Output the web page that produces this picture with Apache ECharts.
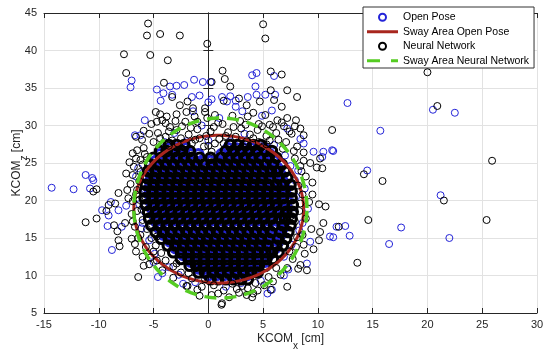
<!DOCTYPE html>
<html><head><meta charset="utf-8">
<script src="https://cdn.jsdelivr.net/npm/echarts@6/dist/echarts.min.js"></script>
<style>html,body{margin:0;padding:0;background:#fff}#c{width:550px;height:355px}</style>
</head><body><div id="c"></div>
<script>
// axis ticks
const xTicks = [-15,-10,-5,0,5,10,15,20,25,30];
const yTicks = [5,10,15,20,25,30,35,40,45];

// Open Pose: individually readable points
const openPoseOuter = [[-14.3,21.7],[-12.3,21.5],[-10.8,21.6],[-11.2,23.4],[-10.6,23.0],[-10.5,22.7],[-8.9,19.8],[-9.7,18.7],[-9.1,18.0],[-8.2,18.7],[-7.5,19.3],[-9.2,16.6],[-8.8,13.4],[-7.9,16.5],[-5.9,19.2],[-5.75,18.4],[-6.0,17.0],[-4.6,9.8],[-4.2,10.3],[-7.0,36.0],[-7.1,35.1],[-4.7,34.8],[-4.1,34.3],[-4.35,33.3],[-3.5,35.2],[-2.9,35.3],[-2.2,35.4],[-1.3,36.1],[-0.5,35.8],[0.2,35.8],[-1.5,33.8],[-0.8,34.0],[0.0,33.1],[0.3,33.5],[-3.3,34.1],[-6.7,28.7],[-6.2,28.7],[4.0,36.7],[4.4,37.0],[6.0,36.6],[1.25,33.8],[2.0,33.9],[2.5,33.3],[1.7,33.2],[3.6,33.8],[4.3,35.2],[4.4,34.1],[5.2,34.1],[6.1,34.1],[2.5,32.5],[7.2,29.6],[8.4,28.2],[12.7,33.0],[20.5,32.1],[22.5,31.7],[15.7,29.3],[11.4,26.6],[14.5,24.0],[21.2,20.7],[12.5,16.6],[11.4,15.1],[12.9,15.3],[17.6,16.4],[16.5,14.2],[22.0,15.0],[10.5,26.5],[11.3,26.7],[9.6,26.5],[10.4,25.8],[8.7,27.6],[11.1,15.2],[11.7,16.5],[9.3,14.5],[9.0,11.6],[5.4,7.6],[5.8,8.1],[6.9,10.0],[-5.5,22.7],[-5.8,21.5],[-6.0,20.3],[-5.4,14.7],[-4.9,12.9],[-3.6,11.1],[-2.7,10.1],[-1.2,9.1],[7.8,18.2],[8.0,20.5],[7.9,22.7],[7.5,24.6],[7.0,26.0],[6.0,27.4],[8.3,16.0],[7.6,14.1],[6.9,12.5],[4.8,9.3],[3.0,9.0],[-4.0,27.8],[-2.0,27.9],[0.0,28.0],[2.0,27.9],[1.0,31.0],[-0.6,30.0],[4.9,31.3],[-6.4,24.3],[-6.6,23.2],[8.8,21.6],[9.1,18.9],[-3.1,29.0],[3.3,28.9],
[-6.3,19.5],[-6.1,16.3],[-5.0,11.8],[8.2,24.0],[8.6,17.0],[7.3,10.8],[-1.4,31.9],[3.1,31.9],[5.8,32.0],[-5.8,30.7],[-2.3,8.9],[1.6,8.5]];

// Open Pose: dense core, estimated row by row (y, x values)
const openPoseDenseRows = [
 [10.0,[0.0,0.7,1.4,2.1,2.8,3.5]],
 [10.9,[-0.9,-0.2,0.5,1.2,1.9,2.6,3.3,4.0,4.5]],
 [11.8,[-1.6,-0.9,-0.2,0.5,1.2,1.9,2.6,3.3,4.0,4.7,5.2]],
 [12.7,[-2.3,-1.6,-0.9,-0.2,0.5,1.2,1.9,2.6,3.3,4.0,4.7,5.5]],
 [13.6,[-3.0,-2.3,-1.6,-0.9,-0.2,0.5,1.2,1.9,2.6,3.3,4.0,4.7,5.4,6.1]],
 [14.5,[-3.5,-2.8,-2.1,-1.4,-0.7,0.0,0.7,1.4,2.1,2.8,3.5,4.2,4.9,5.6,6.4]],
 [15.4,[-4.1,-3.4,-2.7,-2.0,-1.3,-0.6,0.1,0.8,1.5,2.2,2.9,3.6,4.3,5.0,5.7,6.6]],
 [16.3,[-4.5,-3.8,-3.1,-2.4,-1.7,-1.0,-0.3,0.4,1.1,1.8,2.5,3.2,3.9,4.6,5.3,6.0,6.8]],
 [17.2,[-4.8,-4.1,-3.4,-2.7,-2.0,-1.3,-0.6,0.1,0.8,1.5,2.2,2.9,3.6,4.3,5.0,5.7,6.4,7.0]],
 [18.1,[-5.0,-4.3,-3.6,-2.9,-2.2,-1.5,-0.8,-0.1,0.6,1.3,2.0,2.7,3.4,4.1,4.8,5.5,6.2,7.0]],
 [19.0,[-5.2,-4.5,-3.8,-3.1,-2.4,-1.7,-1.0,-0.3,0.4,1.1,1.8,2.5,3.2,3.9,4.6,5.3,6.0,6.7,7.2]],
 [19.9,[-5.3,-4.6,-3.9,-3.2,-2.5,-1.8,-1.1,-0.4,0.3,1.0,1.7,2.4,3.1,3.8,4.5,5.2,5.9,6.6,7.2]],
 [20.8,[-5.4,-4.7,-4.0,-3.3,-2.6,-1.9,-1.2,-0.5,0.2,0.9,1.6,2.3,3.0,3.7,4.4,5.1,5.8,6.5,7.1]],
 [21.7,[-5.4,-4.7,-4.0,-3.3,-2.6,-1.9,-1.2,-0.5,0.2,0.9,1.6,2.3,3.0,3.7,4.4,5.1,5.8,6.5,7.0]],
 [22.6,[-5.3,-4.6,-3.9,-3.2,-2.5,-1.8,-1.1,-0.4,0.3,1.0,1.7,2.4,3.1,3.8,4.5,5.2,5.9,6.8]],
 [23.5,[-5.2,-4.5,-3.8,-3.1,-2.4,-1.7,-1.0,-0.3,0.4,1.1,1.8,2.5,3.2,3.9,4.6,5.3,6.0,6.6]],
 [24.4,[-5.0,-4.3,-3.6,-2.9,-2.2,-1.5,-0.8,-0.1,0.6,1.3,2.0,2.7,3.4,4.1,4.8,5.5,6.3]],
 [25.3,[-4.8,-4.1,-3.4,-2.7,-2.0,-1.3,-0.6,0.2,1.0,1.7,2.4,3.1,3.8,4.5,5.2,6.0]],
 [26.2,[-4.4,-3.7,-3.0,-2.3,-1.6,-0.9,1.2,1.9,2.6,3.3,4.0,4.7,5.6]],
 [27.0,[-3.5,-2.8,-2.1,1.8,2.5,3.2,3.9,4.6,5.1]]
];

// Neural Network: individually readable points
const neuralOuter = [[-5.5,43.6],[-5.6,42.0],[-4.4,42.2],[-2.6,42.0],[5.0,43.5],[5.2,41.6],[-0.1,40.9],[-7.7,39.5],[-5.3,39.4],[-3.7,38.7],[-7.5,37.0],[20.0,37.1],[1.3,37.3],[5.7,37.2],[6.7,36.8],[-4.05,35.7],[1.5,36.2],[2.0,35.2],[0.3,35.8],[5.7,34.7],[7.2,34.7],[8.1,33.8],[-3.3,33.8],[20.9,32.6],[11.3,29.4],[25.9,25.3],[14.2,23.5],[15.9,22.6],[21.5,20.0],[11.9,16.5],[14.6,17.4],[25.4,17.4],[13.6,11.7],[-11.2,17.1],[-10.5,21.2],[-10.2,21.5],[-10.2,17.6],[-9.3,18.6],[-9.1,19.4],[-8.5,19.6],[-8.2,21.0],[-7.4,21.4],[-8.6,16.7],[-8.3,15.9],[-8.2,14.7],[-8.1,13.9],[-7.6,17.0],[-6.7,14.2],[-6.4,9.8],[-5.4,11.5],[-5.0,13.2],[-4.7,15.2],[-2.0,8.6],[-7.5,23.6],[-6.6,28.5],[-5.9,29.3],
[-2.6,32.7],[-1.9,33.2],[-1.4,32.3],[-2.0,31.8],[-4.8,31.8],[-4.4,31.5],[-4.2,30.7],[-4.7,30.5],[-3.8,31.2],[-2.9,31.5],[-1.25,31.2],[-1.0,30.5],[-0.3,32.3],[-3.9,30.3],[-3.6,29.2],[-2.1,30.5],[-0.1,31.0],[1.4,33.3],[2.8,33.6],[3.5,32.7],[4.7,33.2],[6.0,33.4],[6.7,32.5],[4.1,31.7],[5.2,31.4],[6.3,30.7],[7.2,31.0],[8.0,30.7],[8.4,29.6],[8.7,28.7],[-6.05,28.1],[-6.5,26.7],[-5.9,27.0],[-5.6,25.8],[-6.2,25.4],[-3.5,29.8],[-4.4,28.3],[-3.9,28.5],[-2.9,29.4],[-0.3,31.8],
[-2.5,28.3],[-1.8,28.8],[-1.0,29.5],[-0.2,28.6],[0.5,29.8],[1.0,28.2],[1.8,29.1],[2.5,28.5],[3.0,29.6],[3.8,28.8],[4.5,29.4],[5.3,28.6],[5.9,29.8],[6.4,28.1],[7.1,27.8],[7.6,28.9],[6.8,26.9],[-0.4,27.2],[0.3,26.5],[0.6,27.6],[-5.0,27.8],[-4.2,27.5],[-3.3,28.0],[-1.5,27.6],
[2.2,31.3],[2.9,30.6],[3.6,31.2],[4.6,30.2],[5.6,30.1],[6.9,29.9],[1.3,30.2],[0.6,31.4],
[8.1,27.2],[8.7,26.4],[9.3,25.0],[9.9,24.4],[10.4,24.3],[10.2,25.6],[8.4,24.6],[8.9,23.2],[8.2,22.0],[9.5,22.4],[8.6,20.8],[9.2,19.8],[10.1,19.5],[10.7,19.2],[8.3,18.6],[8.9,17.6],[10.5,17.0],[10.2,15.8],[10.1,14.7],[8.6,15.4],[9.4,16.2],[8.0,13.8],[8.8,12.9],[7.7,12.2],[7.2,11.0],[8.2,10.9],[8.4,11.4],[9.0,10.7],[7.2,8.5],[5.7,8.1],[4.1,7.6],[6.6,10.1],[5.9,9.2],[5.1,8.7],[4.0,7.1],[3.5,7.4],[1.9,7.1],[1.25,6.3],[1.2,6.1],[0.3,7.4],[-0.6,8.5],[-1.0,8.1],[-1.9,8.6],[2.6,8.2],[3.1,8.6],[4.5,8.0],[-1.5,9.6],[-2.5,10.4],[-3.2,11.2],[-3.9,12.0],[-4.3,13.0],[-4.8,14.0],[-5.2,15.0],[-5.6,16.2],[-6.0,17.4],[-6.1,18.8],[-6.3,20.1],[-6.5,21.4],[-6.3,22.6],[-6.2,23.8],[-6.0,24.8],[-5.8,26.2],[-6.9,26.3],[-6.8,24.5],[-7.1,22.2],[-6.9,19.9],[-7.0,18.2],[-6.7,16.5],[-6.2,15.4],[-5.7,13.8],[-4.7,12.0],[-4.2,10.7],[-3.2,9.7],
[-4.6,29.0],[-3.0,30.6],[-2.4,29.9],[-1.6,29.7],[-0.8,28.3],[0.2,29.2],[0.9,30.4],[1.6,28.6],[2.3,29.8],[3.4,30.1],[4.1,28.3],[4.9,29.9],[5.6,28.0],[6.2,29.0],[7.4,29.2],[-3.6,27.3],[-2.8,27.6],[-1.2,28.1],[0.0,27.3],[1.4,27.6],[2.6,27.7],[3.5,27.9],[4.6,27.8],[5.3,27.5],[-5.4,28.9],[-5.2,30.2],[6.7,30.4],[7.9,29.9],
[-6.6,13.2],[-6.0,12.5],[-5.3,12.4],[-6.4,15.0],[-6.9,17.2],[-6.5,18.6],[-6.6,20.8],[-7.3,20.3],[-6.9,23.4],[-6.6,25.6],[-7.2,25.1],[-5.9,11.3],[-7.0,14.9],
[7.9,25.6],[8.5,23.9],[7.7,21.3],[8.4,19.6],[7.9,17.2],[8.1,15.1],[8.7,14.1],[7.4,13.2],[9.6,13.5],[9.5,20.8],[8.7,25.3],[7.8,26.6],
[-0.3,9.5],[0.5,8.7],[1.4,8.0],[2.2,8.9],[3.6,8.3],[4.3,9.0],[5.5,9.8],[6.2,11.0],[-1.8,10.3],[-2.9,11.6],[0.9,7.6],[2.8,7.7],[-0.8,7.3]];

// Neural Network: dense core, estimated row by row (y, x values)
const neuralDenseRows = [
 [9.5,[0.2,0.9,1.6,2.3,3.0,3.6]],
 [10.4,[-0.9,-0.3,0.4,1.1,1.8,2.5,3.2,3.9,4.5]],
 [11.3,[-1.7,-1.1,-0.4,0.3,1.0,1.7,2.4,3.1,3.8,4.6,5.2]],
 [12.2,[-2.5,-1.8,-1.1,-0.4,0.3,1.0,1.7,2.4,3.1,3.8,4.5,5.3,5.9]],
 [13.1,[-3.2,-2.5,-1.8,-1.1,-0.4,0.3,1.0,1.7,2.4,3.1,3.8,4.5,5.2,5.8,6.4]],
 [14.0,[-3.7,-3.0,-2.3,-1.6,-0.9,-0.2,0.5,1.2,1.9,2.6,3.3,4.0,4.7,5.4,6.2,6.8]],
 [14.9,[-4.3,-3.6,-2.9,-2.2,-1.5,-0.8,-0.1,0.6,1.3,2.0,2.7,3.4,4.1,4.8,5.5,6.4,7.1]],
 [15.8,[-4.8,-4.1,-3.4,-2.7,-2.0,-1.3,-0.6,0.1,0.8,1.5,2.2,2.9,3.6,4.3,5.0,5.7,6.6,7.3]],
 [16.7,[-5.2,-4.5,-3.8,-3.1,-2.4,-1.7,-1.0,-0.3,0.4,1.1,1.8,2.5,3.2,3.9,4.6,5.3,6.0,6.8,7.5]],
 [17.6,[-5.4,-4.7,-4.0,-3.3,-2.6,-1.9,-1.2,-0.5,0.2,0.9,1.6,2.3,3.0,3.7,4.4,5.1,5.8,6.5,7.0,7.6]],
 [18.5,[-5.5,-4.8,-4.1,-3.4,-2.7,-2.0,-1.3,-0.6,0.1,0.8,1.5,2.2,2.9,3.6,4.3,5.0,5.7,6.4,7.1,7.7]],
 [19.4,[-5.7,-5.0,-4.3,-3.6,-2.9,-2.2,-1.5,-0.8,-0.1,0.6,1.3,2.0,2.7,3.4,4.1,4.8,5.5,6.2,6.9,7.7]],
 [20.3,[-5.8,-5.1,-4.4,-3.7,-3.0,-2.3,-1.6,-0.9,-0.2,0.5,1.2,1.9,2.6,3.3,4.0,4.7,5.4,6.1,6.8,7.6]],
 [21.2,[-5.8,-5.1,-4.4,-3.7,-3.0,-2.3,-1.6,-0.9,-0.2,0.5,1.2,1.9,2.6,3.3,4.0,4.7,5.4,6.1,6.8,7.6]],
 [22.1,[-5.7,-5.0,-4.3,-3.6,-2.9,-2.2,-1.5,-0.8,-0.1,0.6,1.3,2.0,2.7,3.4,4.1,4.8,5.5,6.2,6.8,7.5]],
 [23.0,[-5.6,-4.9,-4.2,-3.5,-2.8,-2.1,-1.4,-0.7,0.0,0.7,1.4,2.1,2.8,3.5,4.2,4.9,5.6,6.4,7.2]],
 [23.9,[-5.5,-4.8,-4.1,-3.4,-2.7,-2.0,-1.3,-0.6,0.1,0.8,1.5,2.2,2.9,3.6,4.3,5.0,5.7,6.3,7.0]],
 [24.8,[-5.3,-4.6,-3.9,-3.2,-2.5,-1.8,-1.1,-0.4,0.3,1.0,1.7,2.4,3.1,3.8,4.5,5.2,5.9,6.7]],
 [25.7,[-5.0,-4.3,-3.6,-2.9,-2.2,-1.5,-0.8,0.2,1.2,1.9,2.6,3.3,4.0,4.7,5.5,6.2]],
 [26.6,[-4.4,-3.8,-3.1,-2.4,-1.7,1.6,2.3,3.0,3.7,4.4,5.2,5.8]],
 [27.4,[-3.6,-2.9,-2.2,2.0,2.7,3.4,4.1,4.8]]
];

// Sway-area ellipses: [centre x, centre y, half-width, half-height]
const swayOpenPose = [0.95, 18.85, 7.75, 9.85];
const swayNeural = [1.1, 19.0, 7.9, 12.0];

const BLUE = '#2424d8', BLACK = '#000000', RED = '#a8261e', GREEN = '#55cc22';
const FONT = '"Liberation Sans", Arial, sans-serif';
const ICON_SOLID = 'path://M0,0L0.01,0L0,0.01Z M0,2L31,2L31,5L0,5Z M31,7L30.99,7L31,6.99Z';
const ICON_DASH = 'path://M0,0L0.01,0L0,0.01Z M0,2L13,2L13,5L0,5Z M24,2L31,2L31,5L24,5Z M31,7L30.99,7L31,6.99Z';

function rowsToPoints(rows){ return rows.flatMap(([y, xs]) => xs.map(x => [x, y])); }
function ellipse(p){
  const pts = [];
  for (let i = 0; i <= 180; i++){ const t = i/180*2*Math.PI; pts.push([p[0]+p[2]*Math.cos(t), p[1]+p[3]*Math.sin(t)]); }
  return pts;
}

const chart = echarts.init(document.getElementById('c'), null, {renderer:'canvas'});
const axisCommon = {
  type:'value', axisLine:{show:true, lineStyle:{color:'#262626', width:1}},
  axisTick:{show:true, inside:true, length:5, lineStyle:{color:'#262626'}},
};
const scatterBase = (name, data, color, size, bw, z) => ({
  name, type:'scatter', data, symbol:'circle', symbolSize:size, z,
  itemStyle:{color:'rgba(0,0,0,0)', borderColor:color, borderWidth:bw, opacity:1},
  emphasis:{disabled:true}, silent:true, progressive:0, large:false
});
const nameRich = {a:{fontFamily:FONT, fontSize:12, color:'#262626', lineHeight:14, verticalAlign:'top'},
                  s:{fontFamily:FONT, fontSize:10, color:'#262626', lineHeight:18, verticalAlign:'bottom'}};
chart.setOption({
  animation:false,
  backgroundColor:'#fff',
  grid:{left:44, right:13, top:13, bottom:42, outerBoundsMode:'none'},
  legend:{
    data:[
      {name:'Open Pose'},
      {name:'Sway Area Open Pose', icon:ICON_SOLID, itemStyle:{color:RED, borderWidth:0}},
      {name:'Neural Network'},
      {name:'Sway Area Neural Network', icon:ICON_DASH, itemStyle:{color:GREEN, borderWidth:0}}
    ],
    orient:'vertical', left:363, top:7, itemWidth:31, itemHeight:7, itemGap:0,
    padding:[3,5,0,4], backgroundColor:'#fff', borderColor:'#333', borderWidth:1, borderRadius:0,
    textStyle:{fontFamily:FONT, fontSize:10.5, color:'#000', lineHeight:14.5},
    selectedMode:false
  },
  xAxis:[
    Object.assign({}, axisCommon, {min:xTicks[0], max:xTicks[xTicks.length-1], interval:5, position:'bottom',
      axisLabel:{fontFamily:FONT, fontSize:11, color:'#262626', margin:6},
      splitLine:{show:true, lineStyle:{color:'#e2e2e2', width:1}},
      name:'{a|KCOM}{s|x}{a| [cm]}', nameLocation:'middle', nameGap:20, nameMoveOverlap:false,
      nameTextStyle:{rich:nameRich}}),
    Object.assign({}, axisCommon, {min:xTicks[0], max:xTicks[xTicks.length-1], interval:5, position:'top',
      axisLabel:{show:false}, splitLine:{show:false}})
  ],
  yAxis:[
    Object.assign({}, axisCommon, {min:yTicks[0], max:yTicks[yTicks.length-1], interval:5, position:'left',
      axisLabel:{fontFamily:FONT, fontSize:11, color:'#262626', margin:7},
      splitLine:{show:true, lineStyle:{color:'#e2e2e2', width:1}},
      name:'{a|KCOM}{s|z}{a| [cm]}', nameLocation:'middle', nameGap:15, nameMoveOverlap:false,
      nameTextStyle:{rich:nameRich}}),
    Object.assign({}, axisCommon, {min:yTicks[0], max:yTicks[yTicks.length-1], interval:5, position:'right',
      axisLabel:{show:false}, splitLine:{show:false}})
  ],
  series:[
    scatterBase('Open Pose', openPoseOuter, BLUE, 7, 1, 2),
    scatterBase('Open Pose', rowsToPoints(openPoseDenseRows), BLUE, 9, 3, 1),
    {name:'Sway Area Open Pose', type:'line', data:ellipse(swayOpenPose), symbol:'none', showSymbol:false, z:4,
     lineStyle:{color:RED, width:3}, itemStyle:{color:RED}, silent:true},
    scatterBase('Neural Network', neuralOuter, BLACK, 7, 1, 5),
    scatterBase('Neural Network', rowsToPoints(neuralDenseRows), BLACK, 9.5, 3.2, 3),
    {name:'Sway Area Neural Network', type:'line', data:ellipse(swayNeural), symbol:'none', showSymbol:false, z:6,
     lineStyle:{color:GREEN, width:3.5, type:[12,8]}, itemStyle:{color:GREEN}, silent:true}
  ]
});
</script></body></html>
